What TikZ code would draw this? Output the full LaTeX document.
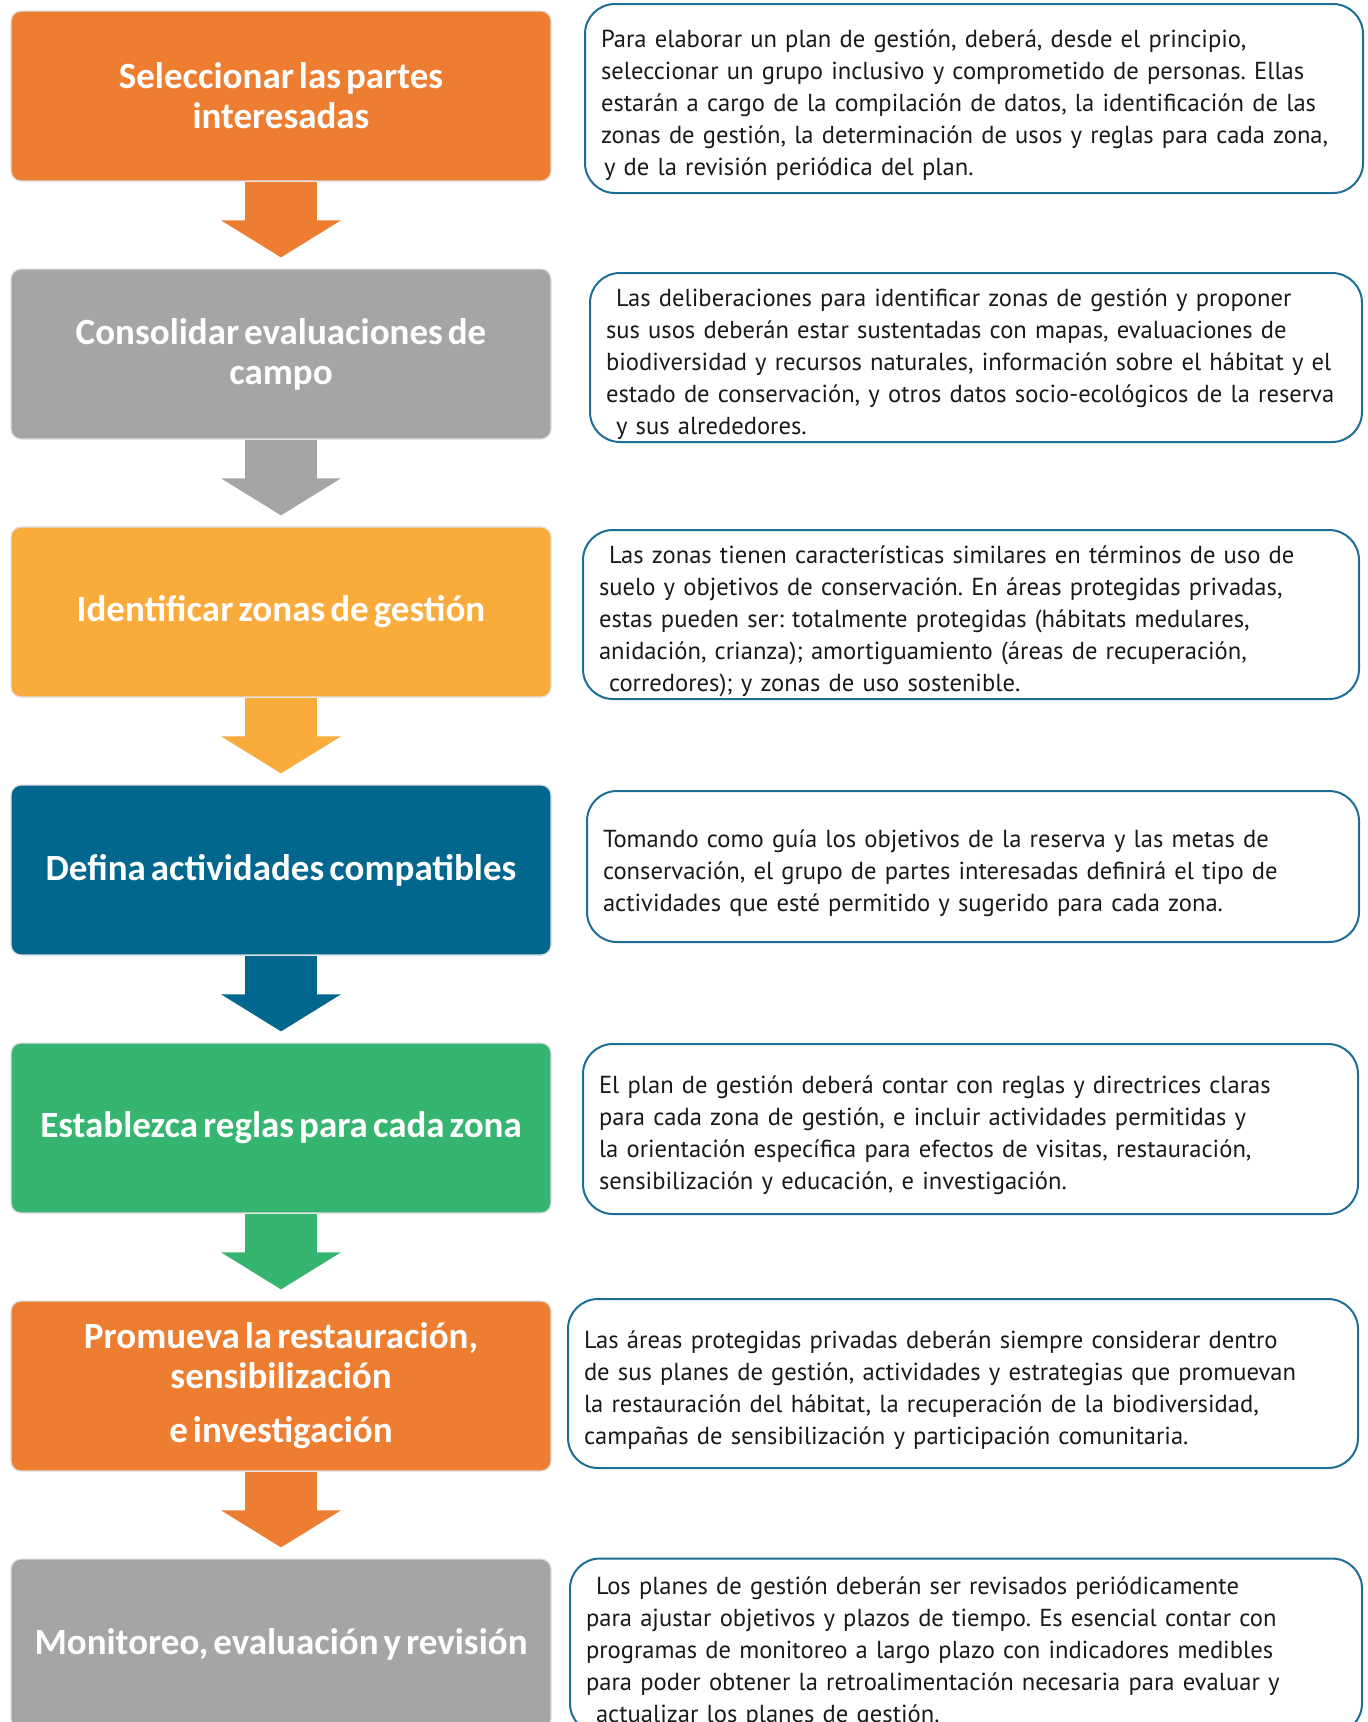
\documentclass[tikz,border=0pt]{standalone}
\usepackage{fontspec}
\usepackage{tikz}
\usetikzlibrary{arrows.meta}
\setmainfont{PT Sans}
\newfontfamily\titlefont{Carlito}[WordSpace=0.6]
\definecolor{stepOrange}{HTML}{ED7D31}
\definecolor{stepGrey}{HTML}{A5A5A5}
\definecolor{stepAmber}{HTML}{F9AB3B}
\definecolor{stepBlue}{HTML}{02678F}
\definecolor{stepGreen}{HTML}{35B56F}
\definecolor{descLine}{HTML}{1D6E95}
\newcommand{\indsp}{\hspace*{10pt}}
\frenchspacing

\begin{document}
\begin{tikzpicture}[x=1pt, y=-1pt,
        stepbox/.style={fill=#1, draw=black!13, line width=1.2pt,
            rounded corners=10pt, minimum width=540pt, minimum height=170pt,
            text=white, align=center,
            font=\titlefont\bfseries\fontsize{37}{40}\selectfont},
        descbox/.style={draw=descLine, line width=2pt, rounded corners=30pt,
            align=left, inner xsep=16pt, inner ysep=0pt, text=black!90,
            font=\fontsize{24.6}{32}\selectfont,
            execute at begin node=\rule{0pt}{31pt}},
        flow/.style={draw=#1, line width=72pt,
            -{Triangle[width=118pt, length=37pt]}},]

    \useasboundingbox (0,0) rectangle (1368,1722);

    % steps on the left
    \node[stepbox=stepOrange] (S1) at (281,  96)
        {Seleccionar las partes\\interesadas};
    \node[stepbox=stepGrey]   (S2) at (281, 354)
        {Consolidar evaluaciones de\\campo};
    \node[stepbox=stepAmber]  (S3) at (281, 612)
        {Identificar zonas de gestión};
    \node[stepbox=stepBlue]   (S4) at (281, 870)
        {Defina actividades compatibles};
    \node[stepbox=stepGreen]  (S5) at (281,1128)
        {Establezca reglas para cada zona};
    \node[stepbox=stepOrange] (S6) at (281,1386)
        {Promueva la restauración,\\sensibilización\\[14pt]e investigación};
    \node[stepbox=stepGrey]   (S7) at (281,1644)
        {Monitoreo, evaluación y revisión};

    \draw[flow=stepOrange] (S1.south) -- ([yshift=11pt]S2.north);
    \draw[flow=stepGrey]   (S2.south) -- ([yshift=11pt]S3.north);
    \draw[flow=stepAmber]  (S3.south) -- ([yshift=11pt]S4.north);
    \draw[flow=stepBlue]   (S4.south) -- ([yshift=11pt]S5.north);
    \draw[flow=stepGreen]  (S5.south) -- ([yshift=11pt]S6.north);
    \draw[flow=stepOrange] (S6.south) -- ([yshift=11pt]S7.north);

    % descriptions on the right
    \node[descbox, text width=746pt, minimum height=189pt] (T1) at (974, 98.5)
        {Para elaborar un plan de gestión, deberá, desde el principio,\\
        seleccionar un grupo inclusivo y comprometido de personas. Ellas\\
        estarán a cargo de la compilación de datos, la identificación de las\\
        zonas de gestión, la determinación de usos y reglas para cada zona,\\
        \hspace*{3pt}y de la revisión periódica del plan.};
    \node[descbox, text width=740pt, minimum height=169pt] (T2) at (976, 357.5)
        {\indsp Las deliberaciones para identificar zonas de gestión y proponer\\
        sus usos deberán estar sustentadas con mapas, evaluaciones de\\
        biodiversidad y recursos naturales, información sobre el hábitat y el\\
        estado de conservación, y otros datos socio-ecológicos de la reserva\\
        \indsp y sus alrededores.};
    \node[descbox, text width=744pt, minimum height=169pt] (T3) at (971, 614.5)
        {\indsp Las zonas tienen características similares en términos de uso de\\
        suelo y objetivos de conservación. En áreas protegidas privadas,\\
        estas pueden ser: totalmente protegidas (hábitats medulares,\\
        anidación, crianza); amortiguamiento (áreas de recuperación,\\
        \indsp corredores); y zonas de uso sostenible.};
    \node[descbox, text width=740pt, minimum height=151pt] (T4) at (973, 866.5)
        {Tomando como guía los objetivos de la reserva y las metas de\\
        conservación, el grupo de partes interesadas definirá el tipo de\\
        actividades que esté permitido y sugerido para cada zona.};
    \node[descbox, text width=743pt, minimum height=170pt] (T5) at (970.5,1129)
        {El plan de gestión deberá contar con reglas y directrices claras\\
        para cada zona de gestión, e incluir actividades permitidas y\\
        la orientación específica para efectos de visitas, restauración,\\
        sensibilización y educación, e investigación.};
    \node[descbox, text width=758pt, minimum height=169pt] (T6) at (963,1383.5)
        {Las áreas protegidas privadas deberán siempre considerar dentro\\
        de sus planes de gestión, actividades y estrategias que promuevan\\
        la restauración del hábitat, la recuperación de la biodiversidad,\\
        campañas de sensibilización y participación comunitaria.};
    \node[descbox, text width=760pt, minimum height=175pt] (T7) at (966,1646)
        {\indsp Los planes de gestión deberán ser revisados periódicamente\\
        para ajustar objetivos y plazos de tiempo. Es esencial contar con\\
        programas de monitoreo a largo plazo con indicadores medibles\\
        para poder obtener la retroalimentación necesaria para evaluar y\\
        \indsp actualizar los planes de gestión.};
\end{tikzpicture}
\end{document}
